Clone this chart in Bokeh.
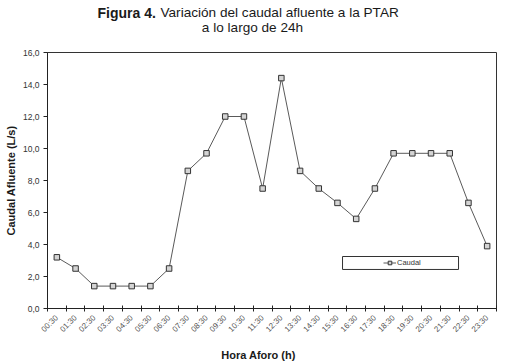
import numpy as np
from bokeh.plotting import figure
from bokeh.layouts import column
from bokeh.models import (Range1d, FixedTicker, Label, Legend, LegendItem,
                          BoxAnnotation, ColumnDataSource)
from bokeh.embed import file_html
from bokeh.resources import INLINE

# ---- data ----
hours = ["00:30", "01:30", "02:30", "03:30", "04:30", "05:30", "06:30", "07:30",
         "08:30", "09:30", "10:30", "11:30", "12:30", "13:30", "14:30", "15:30",
         "16:30", "17:30", "18:30", "19:30", "20:30", "21:30", "22:30", "23:30"]
caudal = [3.2, 2.5, 1.4, 1.4, 1.4, 1.4, 2.5, 8.6,
          9.7, 12.0, 12.0, 7.5, 14.4, 8.6, 7.5, 6.6,
          5.6, 7.5, 9.7, 9.7, 9.7, 9.7, 6.6, 3.9]
y_ticks = [0, 2, 4, 6, 8, 10, 12, 14, 16]

FONT = "Liberation Sans"
W = 505
FL, FR = 47, 496          # frame left/right in page pixels (shared by the column)
n = len(hours)
idx = list(range(n))
src = ColumnDataSource(dict(x=idx, y=caudal, hora=hours))


def strip(height):
    f = figure(width=W, height=height, output_backend="svg", toolbar_location=None,
               title=None, x_axis_location=None, y_axis_location=None,
               x_range=Range1d(FL, FR), y_range=Range1d(0, height),
               min_border=0, min_border_left=FL, min_border_right=W - FR,
               min_border_top=0, min_border_bottom=0)
    f.outline_line_color = None
    f.xgrid.visible = False
    f.ygrid.visible = False
    f.background_fill_color = "white"
    f.border_fill_color = "white"
    return f


def lab(fig, text, x, y, size, bold=False, align="left"):
    fig.add_layout(Label(text=text, x=x, y=y, text_font=FONT, text_font_size=size,
                         text_font_style="bold" if bold else "normal",
                         text_align=align, text_baseline="alphabetic",
                         text_color="#1a1a1a"))


# ---- title strip ----
top = strip(44)
lab(top, "Figura 4.", 97, 32, "14px", bold=True)
lab(top, "Variación del caudal afluente a la PTAR", 160, 32, "13.6px")
lab(top, "a lo largo de 24h", 252, 17, "13.6px", align="center")

# ---- main chart ----
p = figure(width=W, height=296, output_backend="svg", toolbar_location=None,
           title=None,
           x_range=Range1d(-0.5, n - 0.5), y_range=Range1d(0, 16),
           min_border_left=FL, min_border_right=W - FR,
           min_border_top=8, min_border_bottom=32)
p.background_fill_color = "white"
p.border_fill_color = "white"
p.outline_line_color = "#333333"
p.outline_line_width = 1
p.xgrid.visible = False
p.ygrid.visible = False

xa = p.xaxis[0]
xa.ticker = FixedTicker(ticks=idx, minor_ticks=[i - 0.5 for i in range(n + 1)])
xa.major_label_overrides = {i: h for i, h in zip(idx, hours)}
xa.major_label_orientation = np.pi / 4
xa.major_tick_in = 0
xa.major_tick_out = 0
xa.minor_tick_in = 3
xa.minor_tick_out = 3
xa.minor_tick_line_color = "#222222"
xa.axis_line_color = "#222222"
xa.major_label_standoff = 5
xa.major_label_text_font = FONT
xa.major_label_text_font_size = "8px"
xa.major_label_text_color = "#555555"

ya = p.yaxis[0]
ya.ticker = FixedTicker(ticks=y_ticks)
ya.major_label_overrides = {t: f"{t:.1f}".replace(".", ",") for t in y_ticks}
ya.major_tick_in = 0
ya.major_tick_out = 4
ya.minor_tick_line_color = None
ya.major_tick_line_color = "#222222"
ya.axis_line_color = "#222222"
ya.major_label_standoff = 4
ya.major_label_text_font = FONT
ya.major_label_text_font_size = "8.5px"
ya.major_label_text_color = "#333333"
ya.axis_label = "Caudal Afluente (L/s)"
ya.axis_label_text_font = FONT
ya.axis_label_text_font_size = "11px"
ya.axis_label_text_font_style = "bold"
ya.axis_label_text_color = "#1a1a1a"
ya.axis_label_standoff = 3

ln = p.line("x", "y", source=src, line_color="#5a5a5a", line_width=1)
sc = p.scatter("x", "y", source=src, marker="square", size=5.5,
               fill_color="#d4d4d4", line_color="#333333", line_width=1)

box = BoxAnnotation(left=15.27, right=21.47, bottom=2.44, top=3.25,
                    fill_color="white", fill_alpha=1.0,
                    line_color="#333333", line_alpha=1.0, line_width=1)
p.add_layout(box)
legend = Legend(items=[LegendItem(label="Caudal", renderers=[ln, sc])],
                location=(336, 41), padding=0, margin=0, spacing=0,
                glyph_width=13, glyph_height=9, label_height=9,
                label_standoff=1, label_text_font=FONT,
                label_text_font_size="7.5px", label_text_color="#333333",
                border_line_alpha=0, background_fill_alpha=0)
p.add_layout(legend)

# ---- x-axis title strip ----
bottom = strip(22)
lab(bottom, "Hora Aforo (h)", 258, 8, "11px", bold=True, align="center")

layout = column(top, p, bottom, spacing=0)
open("out.html", "w").write(file_html(layout, INLINE))
